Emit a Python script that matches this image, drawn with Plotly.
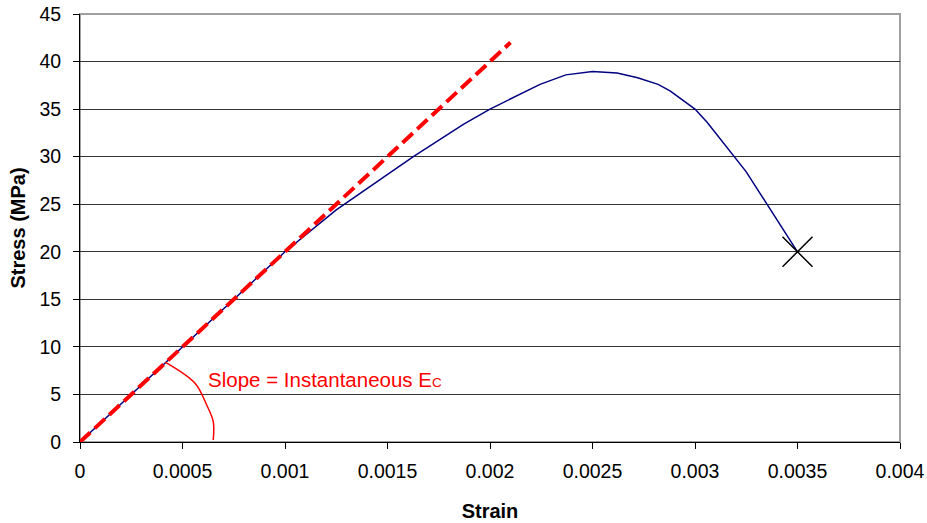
import plotly.graph_objects as go

# Measured stress-strain response of the concrete cylinder
strain = [0.0, 0.0005, 0.001, 0.00125, 0.001626, 0.00187, 0.002, 0.002244,
          0.00237, 0.0025, 0.00262, 0.00272, 0.00282, 0.00288, 0.003,
          0.00306, 0.00325, 0.0035]
stress = [0.0, 10.0, 20.0, 24.4, 30.0, 33.4, 35.0, 37.6,
          38.6, 38.95, 38.8, 38.3, 37.6, 36.9, 35.0,
          33.6, 28.4, 20.0]

# Tangent at the origin (instantaneous modulus)
tangent_strain = [0.0, 0.0021]
tangent_stress = [0.0, 42.0]

# Failure point
fail_strain = [0.0035]
fail_stress = [20.0]

# Angle arc marking the tangent slope
arc_strain = [0.000415, 0.000561, 0.000618, 0.00065, 0.00065]
arc_stress = [8.39, 6.17, 3.89, 2.14, 0.21]

label_text = 'Slope = Instantaneous E<span style="font-size:13.5px">C</span>'
label_pos = (0.000615, 6.6)

x_ticks = [0, 0.0005, 0.001, 0.0015, 0.002, 0.0025, 0.003, 0.0035, 0.004]
x_tick_text = ["0", "0.0005", "0.001", "0.0015", "0.002", "0.0025", "0.003", "0.0035", "0.004"]
y_ticks = list(range(0, 50, 5))

FONT = "Liberation Sans, Arial, sans-serif"

fig = go.Figure()
fig.add_trace(go.Scatter(x=strain, y=stress, mode="lines",
                         line=dict(color="#000080", width=1.5),
                         showlegend=False, hoverinfo="skip"))
fig.add_trace(go.Scatter(x=tangent_strain, y=tangent_stress, mode="lines",
                         line=dict(color="#ff0000", width=4, dash="14px,6px"),
                         showlegend=False, hoverinfo="skip"))
fig.add_trace(go.Scatter(x=arc_strain, y=arc_stress, mode="lines",
                         line=dict(color="#ff0000", width=1.5, shape="spline"),
                         showlegend=False, hoverinfo="skip"))
fig.add_trace(go.Scatter(x=fail_strain, y=fail_stress, mode="markers",
                         marker=dict(symbol="x-thin", size=30,
                                     line=dict(color="#000000", width=1.5)),
                         showlegend=False, hoverinfo="skip"))

fig.add_annotation(x=label_pos[0], y=label_pos[1], text=label_text,
                   showarrow=False, xanchor="left", yanchor="middle",
                   font=dict(family=FONT, size=20.5, color="#ff0000"))

# Grey frame on the top and right of the plot area
fig.add_shape(type="rect", xref="paper", yref="paper", x0=0, y0=0, x1=1, y1=1,
              line=dict(color="#a0a0a0", width=2), layer="below")

fig.update_xaxes(range=[0, 0.004], tickvals=x_ticks, ticktext=x_tick_text,
                 automargin=False,
                 showgrid=False, zeroline=False, showline=True,
                 linecolor="#000000", linewidth=1, ticks="outside",
                 ticklen=6, tickcolor="#000000", ticklabelstandoff=6,
                 tickfont=dict(family=FONT, size=19.5, color="#000000"),
                 title=dict(text="<b>Strain</b>", standoff=22,
                            font=dict(family=FONT, size=20, color="#000000")))
fig.update_yaxes(range=[0, 45], tickvals=y_ticks, automargin=False,
                 showgrid=True, gridcolor="#333333", gridwidth=1,
                 zeroline=False, showline=True,
                 linecolor="#000000", linewidth=1, ticks="outside",
                 ticklen=6, tickcolor="#000000", ticklabelstandoff=8,
                 tickfont=dict(family=FONT, size=19.5, color="#000000"),
                 title=dict(text="<b>Stress (MPa)</b>", standoff=8,
                            font=dict(family=FONT, size=20, color="#000000")))

fig.update_layout(width=927, height=523,
                  margin=dict(l=80, r=27, t=14, b=81, autoexpand=False),
                  paper_bgcolor="#ffffff", plot_bgcolor="#ffffff",
                  font=dict(family=FONT, color="#000000"))

fig.write_html("out.html")
